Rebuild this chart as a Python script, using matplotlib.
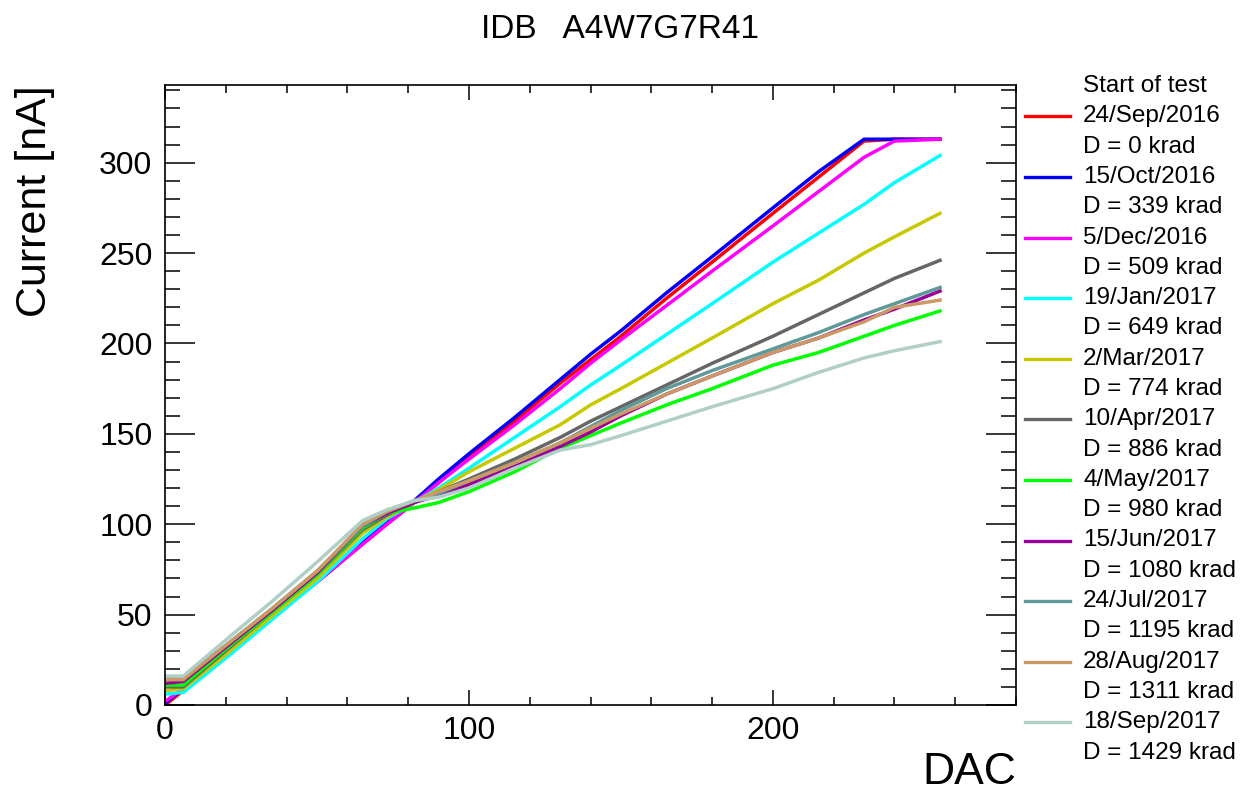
import matplotlib
matplotlib.use("Agg")
import matplotlib.pyplot as plt
from matplotlib.lines import Line2D
from matplotlib.ticker import MultipleLocator

plt.rcParams['font.family'] = ['Liberation Sans', 'DejaVu Sans']

# ---------------- data ----------------
title = "IDB   A4W7G7R41"
legend_header = "Start of test"
dates = ["24/Sep/2016", "15/Oct/2016", "5/Dec/2016", "19/Jan/2017", "2/Mar/2017",
         "10/Apr/2017", "4/May/2017", "15/Jun/2017", "24/Jul/2017", "28/Aug/2017",
         "18/Sep/2017"]
doses = [0, 339, 509, 649, 774, 886, 980, 1080, 1195, 1311, 1429]
colors = ["#ff0000", "#0000ff", "#ff00ff", "#00ffff", "#c8c800", "#666666",
          "#00ff00", "#990099", "#5f9999", "#cc9966", "#b0cfc7"]

dac = [0, 6, 20, 35, 50, 65, 73, 82, 90, 100, 115, 130, 140, 150, 165, 180, 200, 215, 230, 240, 255]

cur_sep16 = [0, 8, 27, 48, 68, 89, 100, 112, 123, 137, 157, 178, 191, 204, 225, 245, 272, 292, 312, 313, 313]
cur_oct16 = [1, 9, 28, 49, 69, 90, 101, 113, 125, 139, 159, 180, 194, 207, 228, 248, 275, 295, 313, 313, 313]
cur_dec16 = [2, 9, 28, 48, 68, 89, 100, 112, 123, 136, 155, 175, 189, 202, 221, 240, 265, 284, 303, 312, 313]
cur_jan17 = [6, 7, 26, 47, 68, 92, 103, 112, 120, 131, 148, 165, 177, 188, 205, 222, 245, 261, 277, 289, 304]
cur_mar17 = [8, 9, 28, 49, 70, 95, 104, 112, 119, 129, 142, 155, 166, 175, 189, 203, 222, 235, 250, 259, 272]
cur_apr17 = [10, 10, 30, 51, 72, 97, 105, 112, 118, 125, 136, 148, 157, 165, 177, 189, 204, 216, 228, 236, 246]
cur_may17 = [11, 11, 31, 51, 72, 98, 106, 109, 112, 118, 129, 142, 149, 156, 166, 175, 188, 195, 204, 210, 218]
cur_jun17 = [12, 13, 32, 52, 73, 99, 106, 112, 116, 122, 132, 143, 151, 160, 172, 182, 195, 203, 213, 219, 229]
cur_jul17 = [15, 15, 33, 53, 74, 99, 107, 113, 117, 124, 134, 145, 154, 163, 175, 185, 197, 206, 216, 222, 231]
cur_aug17 = [14, 14, 33, 53, 74, 100, 107, 113, 118, 124, 134, 145, 153, 161, 172, 182, 195, 203, 212, 220, 224]
cur_sep17 = [16, 16, 36, 57, 79, 102, 108, 113, 115, 120, 131, 141, 144, 149, 157, 165, 175, 184, 192, 196, 201]

series = [cur_sep16, cur_oct16, cur_dec16, cur_jan17, cur_mar17, cur_apr17,
          cur_may17, cur_jun17, cur_jul17, cur_aug17, cur_sep17]

# ---------------- figure ----------------
W, H = 1244, 796
fig = plt.figure(figsize=(W / 100, H / 100), dpi=100)
ax = fig.add_axes([165 / W, 1 - 705 / H, (1016 - 165) / W, (705 - 85) / H])

for y, c in zip(series, colors):
    ax.plot(dac, y, color=c, lw=2.5, solid_joinstyle='round')

ax.set_xlim(0, 280)
ax.set_ylim(0, 343)
ax.xaxis.set_major_locator(MultipleLocator(100))
ax.xaxis.set_minor_locator(MultipleLocator(20))
ax.yaxis.set_major_locator(MultipleLocator(50))
ax.yaxis.set_minor_locator(MultipleLocator(10))
ax.tick_params(which='both', direction='in', top=True, right=True, width=1.1, colors='black')
ax.tick_params(axis='y', which='major', length=21.5, labelsize=23, pad=9)
ax.tick_params(axis='y', which='minor', length=11)
ax.tick_params(axis='x', which='major', length=11, labelsize=23, pad=8)
ax.tick_params(axis='x', which='minor', length=5.5)
for s in ax.spines.values():
    s.set_linewidth(1.2)

fig.text(620 / W, 1 - 30 / H, title, ha='center', va='center', fontsize=24)
fig.text(35 / W, 1 - 85 / H, "Current [nA]", rotation=90, ha='center', va='top', fontsize=31)
fig.text(1016 / W, 1 - 772 / H, "DAC", ha='right', va='center', fontsize=32)

# legend (manual, ROOT-style: marker aligned with first text line)
lx0, lx1, tx = 1025 / W, 1070 / W, 1083 / W
step = 30.3
fig.text(tx, 1 - 86 / H, legend_header, ha='left', va='center', fontsize=17.5)
for i, (d, dose, c) in enumerate(zip(dates, doses, colors)):
    y1 = 86 + step * (2 * i + 1)
    y2 = 86 + step * (2 * i + 2)
    fig.add_artist(Line2D([lx0, lx1], [1 - y1 / H, 1 - y1 / H], color=c, lw=2.4,
                          transform=fig.transFigure))
    fig.text(tx, 1 - y1 / H, d, ha='left', va='center', fontsize=17.5)
    fig.text(tx, 1 - y2 / H, f"D = {dose} krad", ha='left', va='center', fontsize=17.5)

fig.savefig("out.png", dpi=100)
